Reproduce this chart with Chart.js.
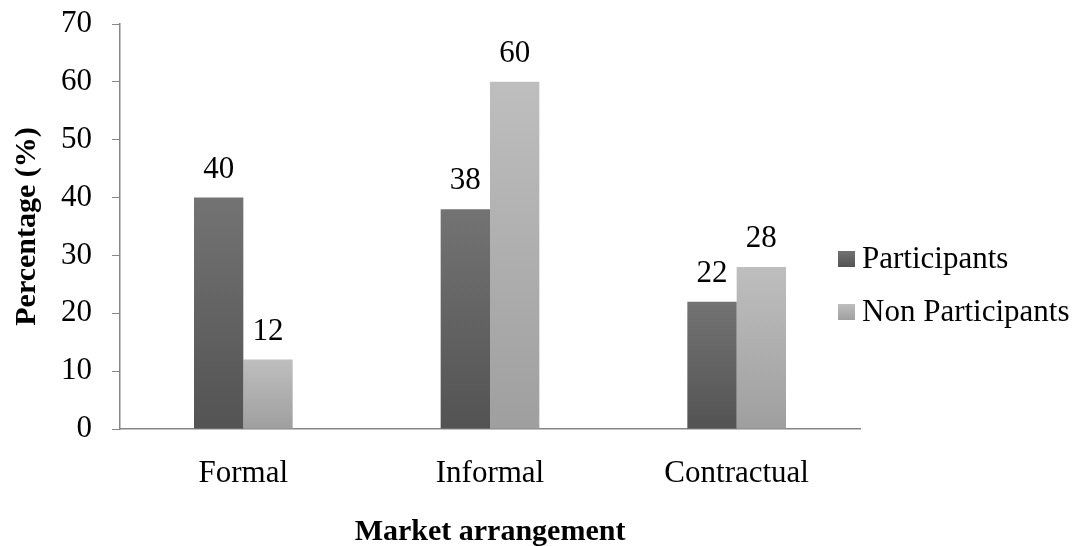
<!DOCTYPE html>
<html>
<head>
<meta charset="utf-8">
<script src="https://cdn.jsdelivr.net/npm/chart.js@4"></script>
<style>
  html, body { margin: 0; padding: 0; background: #fff; }
  #wrap { width: 1077px; height: 546px; }
</style>
</head>
<body>
<div id="wrap"><canvas id="marketChart" width="1077" height="546"></canvas></div>
<script>
// chart data
const categories = ['Formal', 'Informal', 'Contractual'];
const participants = [40, 38, 22];
const nonParticipants = [12, 60, 28];
const seriesNames = ['Participants', 'Non Participants'];
const yTicks = [0, 10, 20, 30, 40, 50, 60, 70];

const FONT = "'Liberation Serif', 'Times New Roman', serif";

// top/bottom shades for each series
const shades = [
    ['#737373', '#535353'],
    ['#bebebe', '#9f9f9f']
];

function barGradient(ctx) {
    const chart = ctx.chart;
    const pair = shades[ctx.datasetIndex];
    if (!chart.chartArea || ctx.raw === undefined) return pair[1];
    const y = chart.scales.y;
    const top = y.getPixelForValue(ctx.raw);
    const bottom = y.getPixelForValue(0);
    if (bottom - top < 1) return pair[1];
    const g = chart.ctx.createLinearGradient(0, top, 0, bottom);
    g.addColorStop(0, pair[0]);
    g.addColorStop(1, pair[1]);
    return g;
}

// value labels above bars
const valueLabels = {
    id: 'valueLabels',
    afterDatasetsDraw(chart) {
        const c = chart.ctx;
        c.save();
        c.font = '31px ' + FONT;
        c.fillStyle = '#000';
        c.textAlign = 'center';
        c.textBaseline = 'alphabetic';
        chart.data.datasets.forEach((ds, i) => {
            chart.getDatasetMeta(i).data.forEach((bar, j) => {
                c.fillText(String(ds.data[j]), bar.x, bar.y - 20);
            });
        });
        c.restore();
    }
};

// legend on the right, drawn by hand so it can sit over the axis extent
const sideLegend = {
    id: 'sideLegend',
    afterDraw(chart) {
        const c = chart.ctx;
        c.save();
        c.font = '31px ' + FONT;
        c.textBaseline = 'alphabetic';
        c.textAlign = 'left';
        chart.data.datasets.forEach((ds, i) => {
            const top = 251 + i * 53;
            const g = c.createLinearGradient(0, top, 0, top + 16);
            g.addColorStop(0, shades[i][0]);
            g.addColorStop(1, shades[i][1]);
            c.fillStyle = g;
            c.fillRect(838, top, 17, 16);
            c.fillStyle = '#000';
            c.fillText(ds.label, 862, top + 17);
        });
        c.restore();
    }
};

new Chart(document.getElementById('marketChart'), {
    type: 'bar',
    data: {
        labels: categories,
        datasets: [
            { label: seriesNames[0], data: participants, backgroundColor: barGradient },
            { label: seriesNames[1], data: nonParticipants, backgroundColor: barGradient }
        ]
    },
    options: {
        responsive: false,
        animation: false,
        layout: { padding: { top: 24, right: 217, left: 0, bottom: 0 } },
        datasets: { bar: { categoryPercentage: 0.4, barPercentage: 1.0 } },
        plugins: {
            legend: { display: false },
            tooltip: { enabled: false }
        },
        scales: {
            x: {
                grid: { display: false },
                border: { display: true, color: '#868686', width: 1.5 },
                ticks: { color: '#000', font: { family: FONT, size: 31 }, padding: 18 },
                title: {
                    display: true,
                    text: 'Market arrangement',
                    color: '#000',
                    font: { family: FONT, size: 30, weight: 'bold' },
                    padding: { top: 0, bottom: -4 }
                },
                afterFit(scale) {
                    scale.height = 117;
                    scale.paddingLeft = 0;
                    scale.paddingRight = 0;
                }
            },
            y: {
                min: 0,
                max: 70,
                afterBuildTicks(scale) { scale.ticks = yTicks.map(v => ({ value: v })); },
                grid: { drawOnChartArea: false, drawTicks: true, tickLength: 8, color: '#868686' },
                border: { display: true, color: '#868686', width: 1.5 },
                ticks: { color: '#000', font: { family: FONT, size: 31 }, padding: 20 },
                title: {
                    display: true,
                    text: 'Percentage (%)',
                    color: '#000',
                    font: { family: FONT, size: 30, weight: 'bold' },
                    padding: { top: 9, bottom: 0 }
                },
                afterFit(scale) {
                    scale.width = 120;
                    scale.paddingTop = 0;
                    scale.paddingBottom = 0;
                }
            }
        }
    },
    plugins: [valueLabels, sideLegend]
});
</script>
</body>
</html>
